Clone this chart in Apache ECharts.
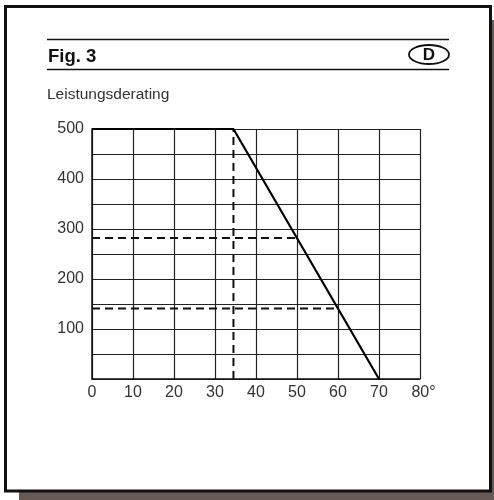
<!DOCTYPE html>
<html>
<head>
<meta charset="utf-8">
<script src="https://cdn.jsdelivr.net/npm/echarts@6/dist/echarts.min.js"></script>
<style>
  html, body { margin: 0; padding: 0; background: #fff; }
  #chart { width: 494px; height: 500px; }
</style>
</head>
<body>
<div id="chart"></div>
<script>
// Derating curve (temperature in °C -> power)
var curveX = [0, 34.5, 70];
var curveY = [500, 500, 0];
// dashed helper lines
var vDashX = [34.5, 34.5];
var vDashY = [0, 500];
var h1DashX = [0, 50];
var h1DashY = [282, 282];
var h2DashX = [0, 60];
var h2DashY = [141, 141];
var yTickLabels = [100, 200, 300, 400, 500];
var xTickLabels = [0, 10, 20, 30, 40, 50, 60, 70, 80];

function pairs(xs, ys) {
    var out = [];
    for (var i = 0; i < xs.length; i++) out.push([xs[i], ys[i]]);
    return out;
}

var font = '"Liberation Sans", Arial, Helvetica, sans-serif';
var chart = echarts.init(document.getElementById('chart'));

var dashStyle = { color: '#111', width: 2, type: [8, 5] };

chart.setOption({
    animation: false,
    backgroundColor: '#fff',
    grid: { left: 92, top: 129, right: 74, bottom: 121, show: false },
    xAxis: {
        type: 'value', min: 0, max: 80, interval: 10,
        axisLine: { show: true, lineStyle: { color: '#111', width: 1.5 } },
        axisTick: { show: false },
        splitLine: { show: true, lineStyle: { color: '#222', width: 1.2 } },
        axisLabel: {
            margin: 6, fontFamily: font, fontSize: 16, color: '#333',
            formatter: function (v) {
                if (xTickLabels.indexOf(v) < 0) return '';
                return v === 80 ? '{d|' + v + '°}' : String(v);
            },
            rich: { d: { fontFamily: font, fontSize: 16, color: '#333', padding: [0, 0, 0, 7] } }
        }
    },
    yAxis: {
        type: 'value', min: 0, max: 500, interval: 50,
        axisLine: { show: true, lineStyle: { color: '#111', width: 1.5 } },
        axisTick: { show: false },
        splitLine: { show: true, lineStyle: { color: '#222', width: 1.2 } },
        axisLabel: {
            margin: 8, fontFamily: font, fontSize: 16, color: '#333',
            formatter: function (v) {
                return yTickLabels.indexOf(v) >= 0 ? String(v) : '';
            }
        }
    },
    graphic: [
        // shadow and frame
        { type: 'rect', z: -10, shape: { x: 19, y: 20, width: 490, height: 490 }, style: { fill: '#675a55' } },
        { type: 'rect', z: -9, shape: { x: 5.5, y: 6.5, width: 485, height: 484.5 }, style: { fill: '#fff', stroke: '#111', lineWidth: 3 } },
        // heading rules
        { type: 'line', shape: { x1: 47, y1: 39.5, x2: 449, y2: 39.5 }, style: { stroke: '#111', lineWidth: 1.5 } },
        { type: 'line', shape: { x1: 47, y1: 69.5, x2: 449, y2: 69.5 }, style: { stroke: '#111', lineWidth: 1.5 } },
        { type: 'text', left: 48, top: 47, style: { text: 'Fig. 3', font: 'bold 18.5px ' + font, fill: '#111' } },
        { type: 'ellipse', shape: { cx: 429, cy: 54.5, rx: 20, ry: 9.5 }, style: { fill: 'none', stroke: '#111', lineWidth: 1.8 } },
        { type: 'text', x: 429, y: 55, style: { text: 'D', font: 'bold 17px ' + font, fill: '#111', align: 'center', verticalAlign: 'middle' } },
        { type: 'text', left: 47, top: 87, style: { text: 'Leistungsderating', font: '15.5px ' + font, fill: '#333' } }
    ],
    series: [
        { type: 'line', data: pairs(vDashX, vDashY), symbol: 'none', lineStyle: dashStyle, z: 3 },
        { type: 'line', data: pairs(h1DashX, h1DashY), symbol: 'none', lineStyle: dashStyle, z: 3 },
        { type: 'line', data: pairs(h2DashX, h2DashY), symbol: 'none', lineStyle: dashStyle, z: 3 },
        { type: 'line', data: pairs(curveX, curveY), symbol: 'none', lineStyle: { color: '#000', width: 2.2 }, z: 4 }
    ]
});
</script>
</body>
</html>
